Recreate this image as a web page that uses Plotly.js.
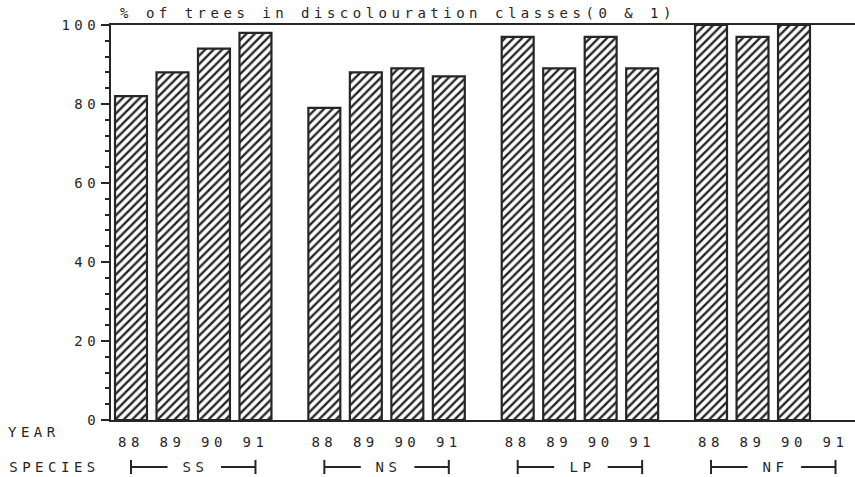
<!DOCTYPE html>
<html>
<head>
<meta charset="utf-8">
<script src="https://cdn.plot.ly/plotly-3.0.1.min.js"></script>
<style>
html, body { margin: 0; padding: 0; background: #fff; }
#chart { width: 855px; height: 477px; }
.main-svg text { letter-spacing: 4.5px; }
</style>
</head>
<body>
<div id="chart"></div>
<script>
// ---- data ----
const years = ['88', '89', '90', '91'];
const species = ['SS', 'NS', 'LP', 'NF'];
const valuesSS = [82, 88, 94, 98];
const valuesNS = [79, 88, 89, 87];
const valuesLP = [97, 89, 97, 89];
const valuesNF = [100, 97, 100, null];
const yTicks = [0, 20, 40, 60, 80, 100];
const titleText = '% of trees in discolouration classes(0 & 1)';

// ---- layout helpers ----
const GROUP_STEP = 4.66;
const groups = [valuesSS, valuesNS, valuesLP, valuesNF];
const xs = [], ys = [], tickText = [];
groups.forEach((vals, g) => {
  vals.forEach((v, i) => {
    xs.push(g * GROUP_STEP + i);
    ys.push(v);
    tickText.push(years[i]);
  });
});

const ink = '#262626';
const font = { family: 'DejaVu Sans Mono, Liberation Mono, monospace', size: 14, color: ink };

const trace = {
  type: 'bar',
  x: xs,
  y: ys,
  width: 0.77,
  marker: {
    color: 'white',
    line: { color: ink, width: 2.2 },
    pattern: { shape: '/', fgcolor: ink, bgcolor: 'white', size: 6, solidity: 0.4 }
  },
  hoverinfo: 'skip'
};

const brY = -0.119, capH = 0.018;
const shapes = [];
const annotations = [];
species.forEach((s, g) => {
  const x0 = g * GROUP_STEP;
  const lineStyle = { color: ink, width: 2 };
  shapes.push({ type: 'line', xref: 'x', yref: 'paper', x0: x0, x1: x0 + 0.88, y0: brY, y1: brY, line: lineStyle });
  shapes.push({ type: 'line', xref: 'x', yref: 'paper', x0: x0 + 2.17, x1: x0 + 3, y0: brY, y1: brY, line: lineStyle });
  shapes.push({ type: 'line', xref: 'x', yref: 'paper', x0: x0, x1: x0, y0: brY - capH, y1: brY + capH, line: lineStyle });
  shapes.push({ type: 'line', xref: 'x', yref: 'paper', x0: x0 + 3, x1: x0 + 3, y0: brY - capH, y1: brY + capH, line: lineStyle });
  annotations.push({ text: s, xref: 'x', yref: 'paper', x: x0 + 1.55, y: brY, xanchor: 'center', yanchor: 'middle', showarrow: false, font: font });
});
// centred labels (letter-spacing is not measured by the library, so anchor at centre)
annotations.push({ text: 'YEAR', xref: 'paper', yref: 'paper', x: (34 - 111) / 744, y: -0.030, xanchor: 'center', yanchor: 'middle', showarrow: false, font: font });
annotations.push({ text: 'SPECIES', xref: 'paper', yref: 'paper', x: (54 - 111) / 744, y: -0.119, xanchor: 'center', yanchor: 'middle', showarrow: false, font: font });

const layout = {
  width: 855,
  height: 477,
  margin: { l: 111, r: 0, t: 25, b: 57, pad: 0 },
  paper_bgcolor: 'white',
  plot_bgcolor: 'white',
  showlegend: false,
  font: font,
  title: {
    text: titleText,
    font: font,
    xref: 'container', yref: 'container',
    x: 398 / 855, y: 1 - 13 / 477,
    xanchor: 'center', yanchor: 'middle'
  },
  xaxis: {
    range: [-0.482, 17.45],
    tickmode: 'array',
    tickvals: xs,
    ticktext: tickText,
    ticks: '',
    ticklabelstandoff: 8,
    showline: true, mirror: true, linecolor: ink, linewidth: 2,
    showgrid: false, zeroline: false,
    tickfont: font,
    fixedrange: true
  },
  yaxis: {
    range: [0, 100],
    tickmode: 'array',
    tickvals: yTicks,
    ticks: 'outside', ticklen: 8, tickwidth: 2, tickcolor: ink,
    minor: { dtick: 4, tick0: 0, ticks: 'outside', ticklen: 4, tickwidth: 2, tickcolor: ink },
    ticklabelstandoff: -2,
    showline: true, linecolor: ink, linewidth: 2,
    showgrid: false, zeroline: false,
    tickfont: font,
    fixedrange: true
  },
  shapes: shapes,
  annotations: annotations
};

Plotly.newPlot('chart', [trace], layout, { staticPlot: true, displayModeBar: false });
</script>
</body>
</html>
